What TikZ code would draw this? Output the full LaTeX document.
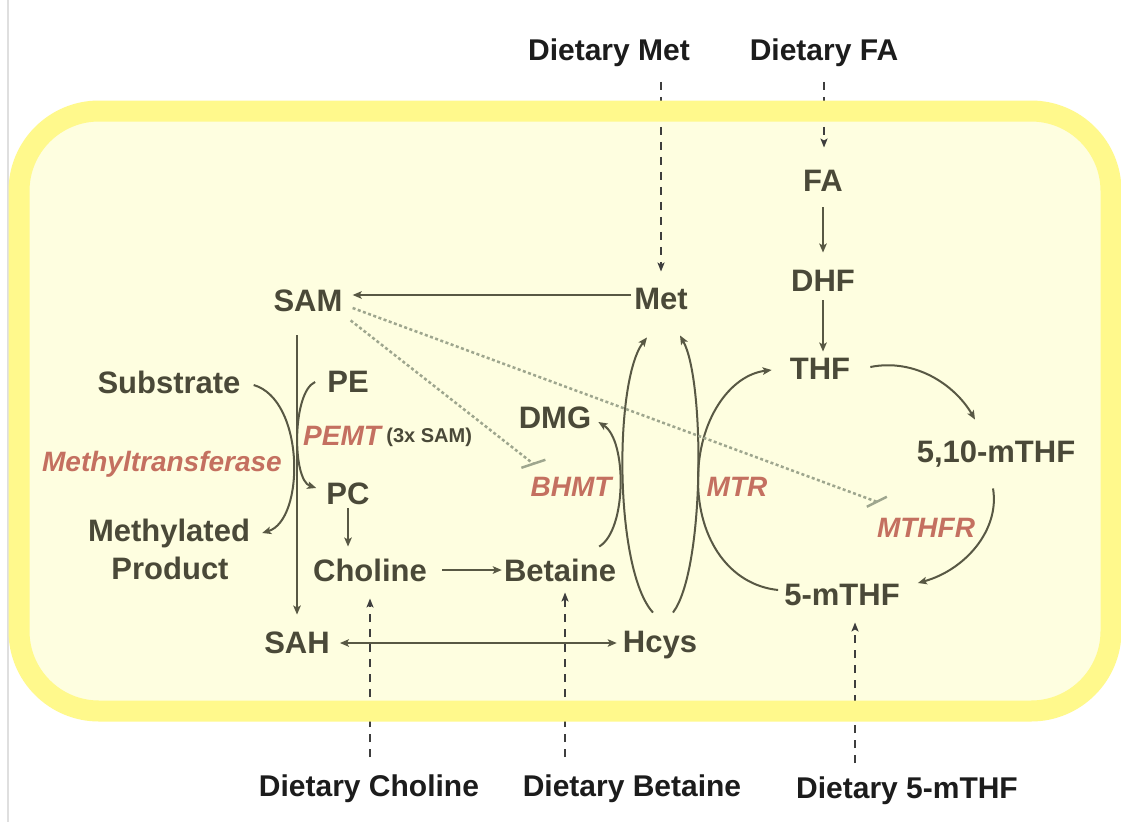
\documentclass[tikz,border=0pt]{standalone}
\usepackage{fontspec}
\setmainfont{Liberation Sans}
\usetikzlibrary{arrows.meta}

\definecolor{cellfill}{RGB}{254,254,224}
\definecolor{ringyellow}{RGB}{255,249,140}
\definecolor{inktext}{RGB}{74,73,56}
\definecolor{inkline}{RGB}{88,88,68}
\definecolor{enzred}{RGB}{196,112,96}
\definecolor{inhgreen}{RGB}{158,166,142}
\definecolor{dietink}{RGB}{28,28,28}

\begin{document}
\begin{tikzpicture}[x=1pt,y=-1pt,
  met/.style={inner sep=0pt, text height=22.5pt, text depth=0pt, text=inktext,
    font=\bfseries\fontsize{31}{31}\selectfont},
  enz/.style={inner sep=0pt, text height=20pt, text depth=0pt, text=enzred,
    font=\bfseries\itshape\fontsize{28}{28}\selectfont},
  smalllbl/.style={inner sep=0pt, text height=14.5pt, text depth=0pt, text=inktext,
    font=\bfseries\fontsize{20}{20}\selectfont},
  diet/.style={inner sep=0pt, text height=21.5pt, text depth=0pt, text=dietink,
    font=\bfseries\fontsize{30}{30}\selectfont},
  tip/.tip={Stealth[length=9pt,width=7.5pt,inset=2pt]},
  arr/.style={draw=inkline, line width=2pt, -tip},
  twoway/.style={draw=inkline, line width=2pt, tip-tip},
  dietline/.style={draw=dietink!85, line width=2pt, dash pattern=on 8pt off 7pt,
    -{Stealth[length=9pt,width=7pt,inset=2pt]}},
  inh/.style={draw=inhgreen, line width=2.5pt, dash pattern=on 3pt off 2.5pt},
  teebar/.style={draw=inhgreen, line width=2.5pt}
]
\useasboundingbox (0,0) rectangle (1121,822);
\fill[white] (0,0) rectangle (1121,822);
\draw[gray!25, line width=1.5pt] (8,0) -- (8,822);

% cell interior
\fill[cellfill] (19,111) [rounded corners=80pt] rectangle (1111,711);

% metabolites
\node[met] (SAM) at (308,300) {SAM};
\node[met] (Met) at (661,298) {Met};
\node[met] (Sub) at (169,382) {Substrate};
\node[met] (PE) at (348,381) {PE};
\node[met] (PC) at (348,493) {PC};
\node[met] (Meth) at (169,530) {Methylated};
\node[met] (Prod) at (170,568) {Product};
\node[met] (Cho) at (370,570) {Choline};
\node[met] (Bet) at (560,570) {Betaine};
\node[met] (DMG) at (555,417) {DMG};
\node[met] (Hcys) at (660,641) {Hcys};
\node[met] (SAH) at (297,642) {SAH};
\node[met] (FA) at (823,180) {FA};
\node[met] (DHF) at (823,280) {DHF};
\node[met] (THF) at (820,368) {THF};
\node[met] (mTHFa) at (996,451) {5,10-mTHF};
\node[met] (mTHFb) at (842,594) {5-mTHF};

% enzymes
\node[enz] (MT) at (162,461) {Methyltransferase};
\node[enz, anchor=west] (PEMT) at (303,435) {PEMT};
\node[smalllbl, anchor=west] (x3) at ([xshift=5pt]PEMT.east) {(3x SAM)};
\node[enz] (BHMT) at (571,486) {BHMT};
\node[enz] (MTR) at (737,486) {MTR};
\node[enz] (MTHFR) at (926,527) {MTHFR};

% dietary sources
\node[diet] (dMet) at (609,50) {Dietary Met};
\node[diet] (dFA) at (824,50) {Dietary FA};
\node[diet] (dCho) at (369,786) {Dietary Choline};
\node[diet] (dBet) at (632,786) {Dietary Betaine};
\node[diet] (dMTHF) at (907,788) {Dietary 5-mTHF};

% dietary inputs (pass under the membrane)
\coordinate (betIn) at ([xshift=5pt]Bet.south);
\coordinate (mthfIn) at ([xshift=13pt]mTHFb.south);
\draw[dietline, shorten <=21pt, shorten >=15pt] (dMet.south -| Met.north) -- (Met.north);
\draw[dietline, shorten <=21pt, shorten >=21pt] (dFA.south) -- (dFA.south |- FA.north);
\draw[dietline, shorten <=18pt, shorten >=17pt] (dCho.north -| Cho.south) -- (Cho.south);
\draw[dietline, shorten <=18pt, shorten >=11pt] (dBet.north -| betIn) -- (betIn);
\draw[dietline, shorten <=14pt, shorten >=17pt] (dMTHF.north -| mthfIn) -- (mthfIn);

% membrane
\draw[ringyellow, line width=21pt, rounded corners=80pt] (19,111) rectangle (1111,711);

% methionine cycle
\draw[arr, shorten <=3pt, shorten >=10pt] ([yshift=3pt]Met.west) -- ([yshift=5pt]SAM.east);
\draw[arr, shorten <=24pt, shorten >=16pt] (SAM.south -| SAH.north) -- (SAH.north);
\draw[twoway, shorten <=10pt, shorten >=6pt]
  ([yshift=-1pt]SAH.east) -- ([yshift=-2pt]Hcys.west);
\draw[arr] ([shift={(-7,-17)}]Hcys.north) .. controls (614,570) and (614,380) .. ([shift={(-14,28)}]Met.south);
\draw[arr] ([shift={(13,-17)}]Hcys.north) .. controls (705,570) and (705,380) .. ([shift={(19,26)}]Met.south);

% methyl transfers
\draw[arr] ([shift={(13,3)}]Sub.east) .. controls (305,400) and (305,520) .. ([shift={(12,3)}]Meth.east);
\draw[arr] ([shift={(-12,1)}]PE.west) .. controls (292,392) and (292,480) .. ([shift={(-10,-5)}]PC.west);
\draw[arr, shorten <=4pt, shorten >=12pt] (PC.south) -- (PC.south |- Cho.north);
\draw[arr, shorten <=15pt, shorten >=2pt] (Cho.east) -- (Bet.west);
\draw[arr] ([shift={(-17,-12)}]Bet.north east) .. controls (627,530) and (627,440) .. ([shift={(7,5)}]DMG.east);

% folate cycle
\draw[arr, shorten <=16pt, shorten >=16pt] (FA.south) -- (FA.south |- DHF.north);
\draw[arr, shorten <=9pt, shorten >=5pt] (DHF.south) -- (DHF.south |- THF.north);
\draw[arr] ([shift={(20,-1)}]THF.east) .. controls (915,358) and (955,385) .. ([shift={(-21,-20)}]mTHFa.north);
\draw[arr] ([shift={(-3,26)}]mTHFa.south) .. controls (1000,530) and (965,570) .. ([shift={(18,-11)}]mTHFb.east);
\draw[arr] ([shift={(-6,-4)}]mTHFb.west) .. controls (730,585) and (698,540) .. (698,480)
  .. controls (698,420) and (730,375) .. ([shift={(-18,2)}]THF.west);

% SAM inhibition
\coordinate (teeB) at ([shift={(3,-12)}]BHMT.north west);
\coordinate (teeM) at ([shift={(0,-15)}]MTHFR.north west);
\draw[inh] ([shift={(8,9)}]SAM.south east) -- (teeB);
\draw[teebar] ([shift={(-12,4)}]teeB) -- ([shift={(12,-4)}]teeB);
\draw[inh] ([shift={(10,8)}]SAM.east) -- (teeM);
\draw[teebar] ([shift={(-10,5)}]teeM) -- ([shift={(10,-5)}]teeM);
\end{tikzpicture}
\end{document}
